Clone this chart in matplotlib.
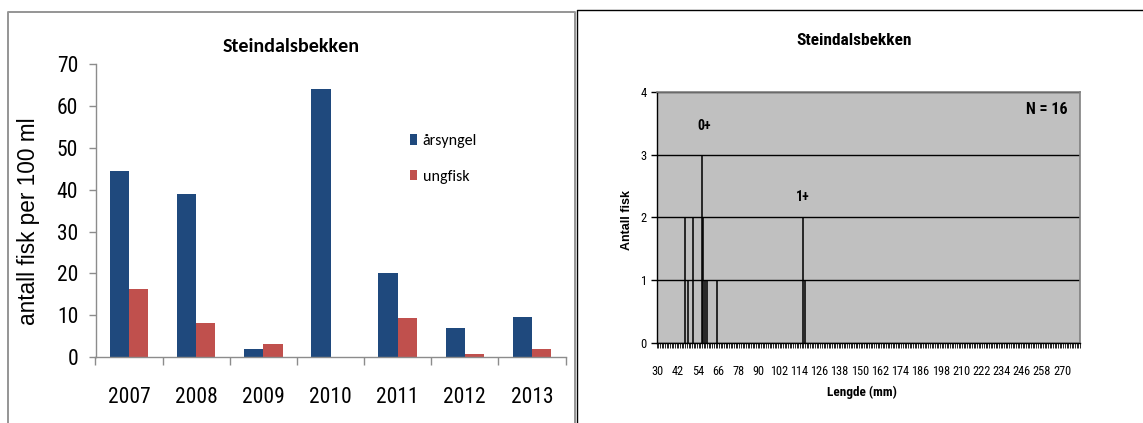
import numpy as np
import matplotlib
matplotlib.use("Agg")
import matplotlib.pyplot as plt
from matplotlib.lines import Line2D

# ---- data -------------------------------------------------------------
years = ["2007", "2008", "2009", "2010", "2011", "2012", "2013"]
arsyngel = [44.6, 39.0, 1.8, 64.1, 20.0, 6.9, 9.6]
ungfisk = [16.3, 8.1, 3.0, 0.0, 9.4, 0.7, 1.8]

lengths_mm = [46, 48, 51, 56, 57, 58, 59, 65, 116, 117]
counts = [2, 1, 2, 3, 2, 1, 1, 1, 2, 1]
length_labels = list(range(30, 271, 12))
length_min, length_max = 30, 280

title = "Steindalsbekken"

# ---- styling ----------------------------------------------------------
NARROW = ["Roboto Condensed", "Liberation Sans", "DejaVu Sans"]
ARIAL = ["Liberation Sans", "DejaVu Sans"]
CAL = ["Carlito", "Lato", "DejaVu Sans"]
BLUE = "#1F497D"
RED = "#C0504D"
AXGRAY = "#8C8C8C"

W, H = 1143, 423
fig = plt.figure(figsize=(W / 100, H / 100), dpi=100)


def fx(px):
    return px / W


def fy(py):
    return 1 - py / H


# panel frames
fig.add_artist(Line2D([fx(8), fx(8), fx(575), fx(575)],
                      [fy(430), fy(12), fy(12), fy(430)],
                      color="#959595", lw=1.4, transform=fig.transFigure))
fig.add_artist(Line2D([fx(577), fx(577), fx(1150)],
                      [fy(430), fy(10.5), fy(10.5)],
                      color="black", lw=1.0, transform=fig.transFigure))

# ---- left: density per year ------------------------------------------
ax1 = fig.add_axes([fx(95.5), fy(357), fx(565.5 - 95.5), (357 - 64.3) / H])
x = np.arange(len(years))
bw = 0.287
b1 = ax1.bar(x - bw / 2, arsyngel, bw, color=BLUE, label="årsyngel", zorder=2)
b2 = ax1.bar(x + bw / 2, ungfisk, bw, color=RED, label="ungfisk", zorder=2)
ax1.set_xlim(-0.5, len(years) - 0.5)
ax1.set_ylim(0, 70)
ax1.set_yticks(range(0, 71, 10))
ax1.set_xticks(x)
ax1.set_xticklabels(years)
ax1.set_xticks(np.arange(-0.5, len(years), 1.0), minor=True)
for s in ("top", "right"):
    ax1.spines[s].set_visible(False)
for s in ("left", "bottom"):
    ax1.spines[s].set_color(AXGRAY)
    ax1.spines[s].set_linewidth(1.0)
ax1.tick_params(axis="y", direction="out", length=5, width=1, color=AXGRAY,
                pad=7.4, labelsize=15.5)
ax1.tick_params(axis="x", which="major", length=0, pad=21.5, labelsize=15.5)
ax1.tick_params(axis="x", which="minor", direction="out", length=5.5,
                width=1, color=AXGRAY)
for lab in ax1.get_xticklabels() + ax1.get_yticklabels():
    lab.set_family(NARROW)
ax1.set_ylabel("antall fisk per 100 ml", fontsize=16.3, family=ARIAL)
ax1.yaxis.set_label_coords((40 - 95.5) / 470, (357 - 221) / 292.7)
ax1.set_title(title, family=CAL, fontweight="bold", fontsize=14.5,
              x=(291 - 95.5) / 470, y=(357 - 47) / 292.7, va="center", pad=0)
ax1.legend(handles=[b1, b2], loc="upper left", frameon=False,
           bbox_to_anchor=(fx(410), fy(134)), bbox_transform=fig.transFigure,
           prop={"family": CAL, "size": 11.5}, handlelength=0.45,
           handleheight=0.65, handletextpad=0.35, labelspacing=1.35,
           borderpad=0, borderaxespad=0)

# ---- right: length distribution --------------------------------------
ax2 = fig.add_axes([fx(656.5), fy(343), fx(1080 - 656.5), (343 - 91.7) / H])
ax2.set_facecolor("#C0C0C0")
ax2.bar(lengths_mm, counts, width=0.65, color="black", edgecolor="black",
        linewidth=0.4, zorder=3)
ax2.set_xlim(length_min - 0.5, length_max + 0.5)
ax2.set_ylim(0, 4)
ax2.set_yticks(range(0, 5))
ax2.yaxis.grid(True, color="black", lw=1.0, zorder=1)
ax2.set_axisbelow(True)
ax2.set_xticks(length_labels)
ax2.set_xticks(np.arange(length_min - 0.5, length_max + 1, 1.0), minor=True)
ax2.tick_params(axis="x", which="major", length=0, pad=16, labelsize=8.8)
ax2.tick_params(axis="x", which="minor", direction="out", length=3.5,
                width=0.6, color="black")
ax2.tick_params(axis="y", direction="out", length=4, width=1, color="black",
                pad=3, labelsize=9)
for lab in ax2.get_xticklabels() + ax2.get_yticklabels():
    lab.set_family(NARROW)
for s in ("left", "bottom"):
    ax2.spines[s].set_color("black")
    ax2.spines[s].set_linewidth(1.0)
for s in ("top", "right"):
    ax2.spines[s].set_color("#808080")
    ax2.spines[s].set_linewidth(1.2)
ax2.set_xlabel("Lengde (mm)", family=NARROW, fontweight="bold", fontsize=9.5)
ax2.xaxis.set_label_coords((862 - 656.5) / 423.5, (343 - 386) / 251.3)
ax2.set_ylabel("Antall fisk", family=ARIAL, fontweight="bold", fontsize=9)
ax2.yaxis.set_label_coords((633 - 656.5) / 423.5, (343 - 220) / 251.3)
ax2.set_title(title, family=NARROW, fontweight="bold", fontsize=12.5,
              x=(854 - 656.5) / 423.5, y=(343 - 40) / 251.3, va="center", pad=0)
ax2.text(57.7, 3.45, "0+", family=NARROW, fontweight="bold", fontsize=10,
         ha="center", va="center")
ax2.text(115.9, 2.33, "1+", family=NARROW, fontweight="bold", fontsize=10,
         ha="center", va="center")
ax2.text(0.921, 0.930, "N = 16", transform=ax2.transAxes, family=NARROW,
         fontweight="bold", fontsize=11.5, ha="center", va="center")

fig.savefig("out.png", dpi=100)
